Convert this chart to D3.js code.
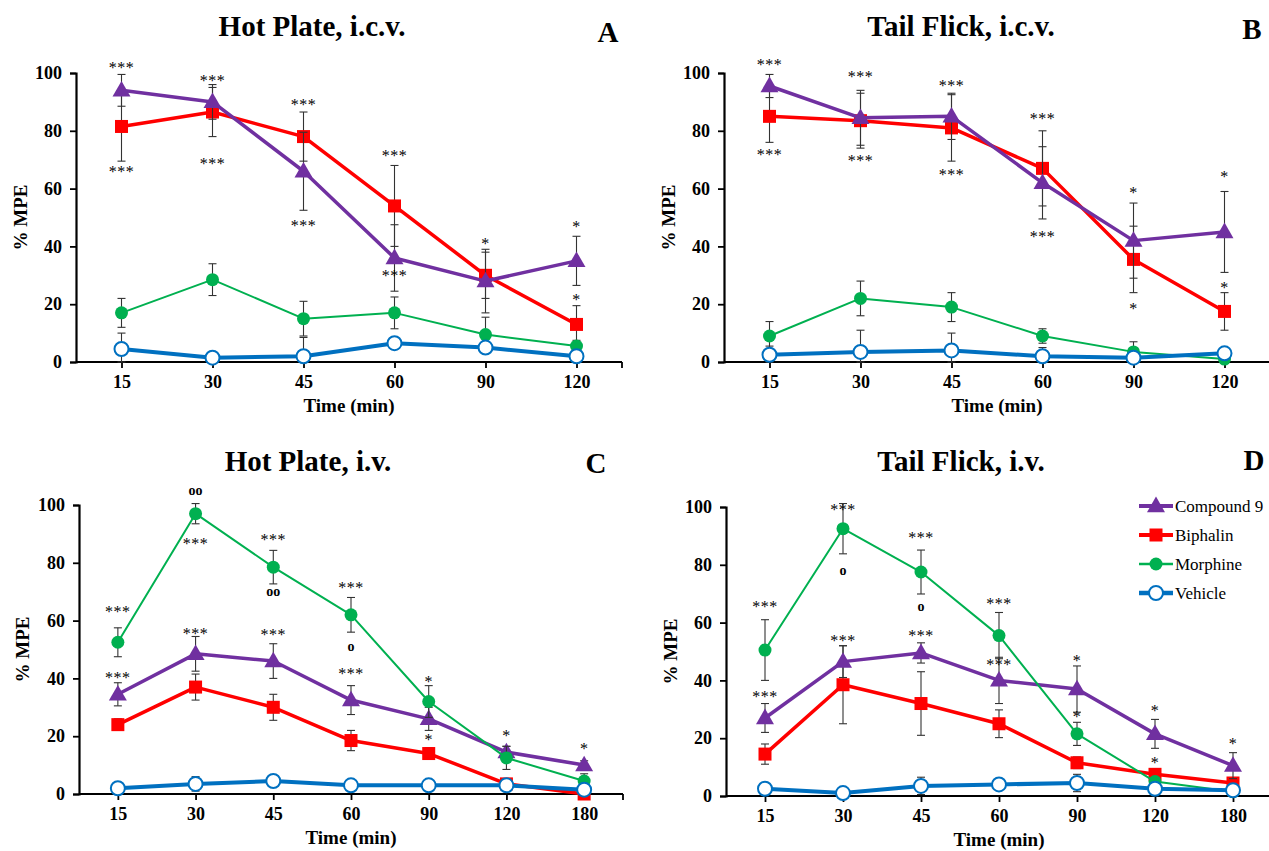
<!DOCTYPE html>
<html>
<head>
<meta charset="utf-8">
<script src="https://cdn.jsdelivr.net/npm/d3@7"></script>
<style>
  body { margin: 0; background: #fff; }
  svg { display: block; }
  text { font-family: "Liberation Serif", "Times New Roman", serif; fill: #000; }
</style>
</head>
<body>
<div id="chart"></div>
<script>
// time points
var timesIcv = ["15", "30", "45", "60", "90", "120"];
var timesIv = ["15", "30", "45", "60", "90", "120", "180"];

// A: Hot Plate i.c.v.
var compA = [94, 90, 66, 36, 28, 35];
var compAErr = [5.5, 6, 13.5, 11.5, 11, 8.5];
var biphA = [81.5, 86.5, 78, 54, 30, 13];
var biphAErr = [12, 8.5, 8.5, 14, 8, 6.5];
var morA = [17, 28.5, 15, 17, 9.5, 5.5];
var morAErr = [5, 5.5, 6, 5.5, 6, 2];
var vehA = [4.5, 1.5, 2, 6.5, 5, 2];
var vehAErr = [5.5, 1.5, 6.5, 2, 2, 1];

// B: Tail Flick i.c.v.
var compB = [95.5, 84.5, 85, 62, 42, 45];
var compBErr = [4, 9.5, 8, 12.5, 13, 14];
var biphB = [85, 83.5, 81, 67, 35.5, 17.5];
var biphBErr = [9, 9.5, 11.5, 13, 11.5, 6.5];
var morB = [9, 22, 19, 9, 3.5, 1];
var morBErr = [5, 6, 5, 2.5, 3.5, 1];
var vehB = [2.5, 3.5, 4, 2, 1.5, 3];
var vehBErr = [3, 7.5, 6, 3, 1, 1];

// C: Hot Plate i.v.
var compC = [34.5, 48.5, 46, 32.5, 26, 14.5, 10];
var compCErr = [4, 6, 6, 5, 4, 2, 1.5];
var biphC = [24, 37, 30, 18.5, 14, 3.5, 0];
var biphCErr = [2, 4.5, 4.5, 3.5, 2, 1, 0];
var morC = [52.5, 97, 78.5, 62, 32, 12.5, 4.5];
var morCErr = [5, 3.5, 5.8, 6, 5.5, 4, 2.5];
var vehC = [2, 3.5, 4.5, 3, 3, 3, 1.5];
var vehCErr = [1, 2.5, 1, 1, 1, 1, 1];

// D: Tail Flick i.v.
var compD = [27, 46.5, 49.5, 40, 37, 21.5, 10.5];
var compDErr = [5, 5.5, 3.5, 8, 8, 5, 4.5];
var biphD = [14.5, 38.5, 32, 25, 11.5, 7.5, 4.5];
var biphDErr = [3.5, 13.5, 11, 4.8, 2, 1.5, 1];
var morD = [50.5, 92.5, 77.5, 55.5, 21.5, 5, 1.5];
var morDErr = [10.5, 8.7, 7.6, 8, 4, 1, 0.5];
var vehD = [2.5, 1, 3.5, 4, 4.5, 2.5, 2];
var vehDErr = [2, 1, 3, 2, 3, 1, 1];

// significance marks [time, y, label]
var annA = [["15",103,"***"],["15",67,"***"],["30",98.6,"***"],["30",70,"***"],["45",90.3,"***"],["45",48.4,"***"],
  ["60",72.7,"***"],["60",31,"***"],["90",42.2,"*"],["120",48,"*"],["120",22.8,"*"]];
var annB = [["15",104,"***"],["15",73,"***"],["30",100,"***"],["30",71,"***"],["45",97,"***"],["45",66,"***"],
  ["60",85.5,"***"],["60",44.8,"***"],["90",60,"*"],["90",19.7,"*"],["120",65.4,"*"],["120",27,"*"]];
var annC = [["15",64.4,"***"],["15",41.5,"***"],["30",104.8,"oo"],["30",87.9,"***"],["30",56.7,"***"],
  ["45",89.3,"***"],["45",69.9,"oo"],["45",56.4,"***"],["60",72.7,"***"],["60",50.9,"o"],["60",42.9,"***"],
  ["90",40.1,"*"],["90",20,"*"],["120",21.5,"*"],["180",17,"*"]];
var annD = [["15",66.8,"***"],["15",35.6,"***"],["30",100.3,"***"],["30",77.9,"o"],["30",55,"***"],
  ["45",90.7,"***"],["45",65.4,"o"],["45",56.7,"***"],["60",67.8,"***"],["60",46.7,"***"],
  ["90",48,"*"],["90",28.7,"*"],["120",30.8,"*"],["120",12.8,"*"],["180",19.4,"*"]];

var seriesNames = ["Compound 9", "Biphalin", "Morphine", "Vehicle"];
var yTicks = [0, 20, 40, 60, 80, 100];

var styles = {
  "Compound 9": {color: "#7030A0", width: 3.5, marker: "tri"},
  "Biphalin":   {color: "#FF0000", width: 3.5, marker: "sq"},
  "Morphine":   {color: "#00B050", width: 2,   marker: "dot"},
  "Vehicle":    {color: "#0070C0", width: 4,   marker: "open"}
};

var W = 1269, H = 851;
var svg = d3.select('#chart').append('svg').attr('width', W).attr('height', H);

var panels = [
  {title: "Hot Plate, i.c.v.", letter: "A", times: timesIcv, x0: 76, x1: 622, y0: 362, y1: 73,
   tx: 312, ty: 36, lx: 608, ly: 42, mx: 27, ann: annA, endTick: true,
   data: [[compA, compAErr], [biphA, biphAErr], [morA, morAErr], [vehA, vehAErr]]},
  {title: "Tail Flick, i.c.v.", letter: "B", times: timesIcv, x0: 724, x1: 1270, y0: 362, y1: 73,
   tx: 961, ty: 36, lx: 1252, ly: 39, mx: 675, ann: annB, endTick: false,
   data: [[compB, compBErr], [biphB, biphBErr], [morB, morBErr], [vehB, vehBErr]]},
  {title: "Hot Plate, i.v.", letter: "C", times: timesIv, x0: 79, x1: 623, y0: 794, y1: 505,
   tx: 308, ty: 471, lx: 596, ly: 473, mx: 29, ann: annC, endTick: true,
   data: [[compC, compCErr], [biphC, biphCErr], [morC, morCErr], [vehC, vehCErr]]},
  {title: "Tail Flick, i.v.", letter: "D", times: timesIv, x0: 726, x1: 1272, y0: 796, y1: 507,
   tx: 961, ty: 471, lx: 1254, ly: 470, mx: 677, ann: annD, endTick: false, legend: true,
   data: [[compD, compDErr], [biphD, biphDErr], [morD, morDErr], [vehD, vehDErr]]}
];

function drawMarker(g, type, color, cx, cy) {
  if (type === "tri") {
    g.append('path').attr('d', d3.symbol(d3.symbolTriangle, 140)())
      .attr('transform', `translate(${cx},${cy + 1})`).attr('fill', color);
  } else if (type === "sq") {
    g.append('rect').attr('x', cx - 6.5).attr('y', cy - 6.5).attr('width', 13).attr('height', 13).attr('fill', color);
  } else if (type === "dot") {
    g.append('circle').attr('cx', cx).attr('cy', cy).attr('r', 6.5).attr('fill', color);
  } else {
    g.append('circle').attr('cx', cx).attr('cy', cy).attr('r', 7)
      .attr('fill', '#fff').attr('stroke', color).attr('stroke-width', 2);
  }
}

panels.forEach(function(p) {
  var g = svg.append('g');
  var x = d3.scalePoint().domain(p.times).range([p.x0, p.x1]).padding(0.5);
  var y = d3.scaleLinear().domain([0, 100]).range([p.y0, p.y1]);

  // title + letter
  g.append('text').attr('x', p.tx).attr('y', p.ty).attr('text-anchor', 'middle')
    .attr('font-size', 29).attr('font-weight', 'bold').text(p.title);
  g.append('text').attr('x', p.lx).attr('y', p.ly).attr('text-anchor', 'middle')
    .attr('font-size', 29).attr('font-weight', 'bold').text(p.letter);

  // axes
  var yAxis = g.append('g').attr('transform', `translate(${p.x0},0)`)
    .call(d3.axisLeft(y).tickValues(yTicks).tickSize(6).tickPadding(8));
  var xAxis = g.append('g').attr('transform', `translate(0,${p.y0})`)
    .call(d3.axisBottom(x).tickSize(6).tickPadding(7));
  [xAxis, yAxis].forEach(function(a) {
    a.select('.domain').attr('stroke', '#000').attr('stroke-width', 2.2);
    a.selectAll('.tick line').attr('stroke', '#000').attr('stroke-width', 1.8);
    a.selectAll('.tick text').attr('font-family', '"Liberation Serif", serif')
      .attr('font-size', 18).attr('font-weight', 'bold').attr('fill', '#000');
  });
  xAxis.select('.domain').attr('d', `M${p.x0},0H${p.x1}`);
  if (p.endTick) {
    xAxis.append('line').attr('x1', p.x1).attr('x2', p.x1).attr('y1', 0).attr('y2', 6)
      .attr('stroke', '#000').attr('stroke-width', 1.8);
  }

  // axis titles
  g.append('text').attr('x', (p.x0 + p.x1) / 2).attr('y', p.y0 + 50).attr('text-anchor', 'middle')
    .attr('font-size', 19).attr('font-weight', 'bold').text('Time (min)');
  g.append('text').attr('transform', `translate(${p.mx},${(p.y0 + p.y1) / 2})rotate(-90)`)
    .attr('text-anchor', 'middle').attr('font-size', 19).attr('font-weight', 'bold').text('% MPE');

  // series: draw order red, purple, green, blue
  var order = [1, 0, 2, 3];
  order.forEach(function(i) {
    var name = seriesNames[i];
    var st = styles[name];
    var vals = p.data[i][0], errs = p.data[i][1];
    var pts = p.times.map(function(t, j) { return {t: t, v: vals[j], e: errs[j]}; });
    var sg = g.append('g');

    sg.append('path').datum(pts)
      .attr('d', d3.line().x(d => x(d.t)).y(d => y(d.v)))
      .attr('fill', 'none').attr('stroke', st.color).attr('stroke-width', st.width)
      .attr('stroke-linejoin', 'round');

    // error bars
    pts.forEach(function(d) {
      if (d.e <= 0) return;
      var hi = y(d.v + d.e), lo = y(Math.max(0, d.v - d.e)), cx = x(d.t);
      sg.append('line').attr('x1', cx).attr('x2', cx).attr('y1', hi).attr('y2', lo)
        .attr('stroke', '#333').attr('stroke-width', 1.1);
      sg.append('line').attr('x1', cx - 4).attr('x2', cx + 4).attr('y1', hi).attr('y2', hi)
        .attr('stroke', '#333').attr('stroke-width', 1.1);
      sg.append('line').attr('x1', cx - 4).attr('x2', cx + 4).attr('y1', lo).attr('y2', lo)
        .attr('stroke', '#333').attr('stroke-width', 1.1);
    });

    pts.forEach(function(d) { drawMarker(sg, st.marker, st.color, x(d.t), y(d.v)); });
  });

  // significance marks
  p.ann.forEach(function(a) {
    var isO = a[2].charAt(0) === 'o';
    g.append('text').attr('x', x(a[0])).attr('y', y(a[1]) + (isO ? 4 : 9))
      .attr('text-anchor', 'middle')
      .attr('font-family', isO ? '"Liberation Sans", Arial, sans-serif' : '"Liberation Serif", serif')
      .attr('font-weight', isO ? 'bold' : 'normal')
      .attr('font-size', isO ? 14 : 16)
      .attr('fill', '#000')
      .attr('letter-spacing', isO ? 0 : 0.5)
      .text(a[2]);
  });

  // legend
  if (p.legend) {
    var lg = g.append('g');
    seriesNames.forEach(function(name, i) {
      var st = styles[name];
      var ly = 506 + i * 29;
      lg.append('line').attr('x1', 1139).attr('x2', 1173).attr('y1', ly).attr('y2', ly)
        .attr('stroke', st.color).attr('stroke-width', st.width + 0.5);
      drawMarker(lg, st.marker, st.color, 1156, ly);
      lg.append('text').attr('x', 1175).attr('y', ly).attr('dy', '0.35em')
        .attr('font-size', 17).text(name);
    });
  }
});
</script>
</body>
</html>
